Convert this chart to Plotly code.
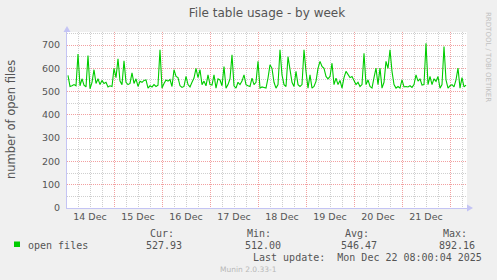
import plotly.graph_objects as go
import pandas as pd

# ---- data ----
start_time = "2025-12-14 01:00"
open_files = [
    570, 522, 525, 530, 525, 661, 525, 555, 528, 520,
    655, 512, 540, 594, 535, 555, 530, 548, 535, 540,
    520, 525, 522, 600, 560, 641, 545, 530, 632, 540,
    530, 535, 580, 535, 555, 522, 544, 540, 548, 550,
    515, 525, 520, 530, 522, 528, 680, 515, 535, 550,
    545, 552, 522, 594, 565, 560, 525, 518, 522, 565,
    530, 520, 540, 558, 600, 560, 594, 530, 545, 525,
    572, 530, 528, 572, 515, 555, 550, 525, 608, 515,
    530, 555, 658, 525, 515, 540, 530, 545, 572, 530,
    525, 522, 558, 530, 540, 630, 515, 520, 518, 515,
    558, 615, 600, 540, 515, 530, 680, 572, 530, 522,
    650, 600, 540, 522, 587, 530, 522, 530, 680, 587,
    515, 572, 515, 522, 544, 600, 630, 608, 600, 565,
    555, 565, 622, 530, 558, 530, 548, 515, 560, 587,
    570, 560, 565, 544, 530, 540, 522, 530, 665, 530,
    550, 522, 515, 560, 601, 530, 601, 515, 540, 630,
    600, 680, 587, 530, 515, 522, 515, 550, 520, 522,
    520, 525, 518, 530, 572, 545, 555, 528, 530, 708,
    530, 565, 530, 555, 544, 565, 515, 530, 694, 550,
    515, 525, 530, 520, 550, 601, 515, 560, 520, 528,
]
times = pd.date_range(start_time, periods=len(open_files), freq="h")

x_range = ["2025-12-14 00:30", "2025-12-22 08:30"]
y_range = [0, 756]
y_ticks = [0, 100, 200, 300, 400, 500, 600, 700]
y_minor = [50, 150, 250, 350, 450, 550, 650, 750]
six_hour_ticks = [t for t in pd.date_range("2025-12-14", "2025-12-23", freq="6h")
                  if t.hour != 0]

series_name = "open files"
stat_headers = ["Cur:", "Min:", "Avg:", "Max:"]
stat_values = ["527.93", "512.00", "546.47", "892.16"]
title_text = "File table usage - by week"
y_title = "number of open files"
last_update = "Last update:  Mon Dec 22 08:00:04 2025"
version_text = "Munin 2.0.33-1"
side_text = "RRDTOOL / TOBI OETIKER"

# ---- layout geometry (pixels) ----
W, H = 497, 280
L, R, T, B = 67, 30, 32, 72
PW, PH = W - L - R, H - T - B


def px(x):
    return (x - L) / PW


def py(y):
    return (H - B - y) / PH


GREEN = "#00cc00"
TXT = "#555555"
MONO = "DejaVu Sans Mono"
SANS = "DejaVu Sans"
MAJOR = "#f2a0a0"
MINOR = "#cfcfcf"
AXIS = "#c4c4f4"

fig = go.Figure()
fig.add_trace(go.Scatter(
    x=times, y=open_files, mode="lines",
    line=dict(color=GREEN, width=1.1),
    hoverinfo="skip", showlegend=False,
))

fig.update_layout(
    width=W, height=H,
    margin=dict(l=L, r=R, t=T, b=B),
    paper_bgcolor="#f0f0f0",
    plot_bgcolor="#ffffff",
    showlegend=False,
    font=dict(family=SANS, size=9.5, color=TXT),
    title=dict(text=title_text, x=0.5, xanchor="center", xref="paper",
               y=1 - 13 / H, yanchor="middle", yref="container",
               font=dict(family=SANS, size=12, color=TXT)),
)

fig.update_xaxes(
    type="date", range=x_range,
    tick0="2025-12-14", dtick=86400000,
    ticklabelmode="period", tickformat="%d %b",
    showgrid=True, gridcolor=MAJOR, griddash="1px,1px", gridwidth=1,
    minor=dict(tickmode="array", tickvals=six_hour_ticks, showgrid=True,
               gridcolor=MINOR, griddash="1px,1px", gridwidth=1),
    showline=True, linecolor=AXIS, linewidth=1,
    ticks="", zeroline=False,
    tickfont=dict(family=SANS, size=9.5, color=TXT),
)
fig.update_yaxes(
    range=y_range, tickmode="array", tickvals=y_ticks,
    showgrid=True, gridcolor=MAJOR, griddash="1px,1px", gridwidth=1,
    minor=dict(tickmode="array", tickvals=y_minor, showgrid=True,
               gridcolor=MINOR, griddash="1px,1px", gridwidth=1),
    showline=True, linecolor=AXIS, linewidth=1,
    ticks="", zeroline=False, ticklabelstandoff=4,
    tickfont=dict(family=SANS, size=9.5, color=TXT),
)

# y axis title
fig.add_annotation(text=y_title, x=px(11), y=py(119), xref="paper", yref="paper",
                   xanchor="center", yanchor="middle", showarrow=False,
                   textangle=-90, font=dict(family=SANS, size=11.5, color=TXT))

# axis arrow heads
fig.add_shape(type="path", xref="paper", yref="paper",
              xsizemode="pixel", ysizemode="pixel", xanchor=1, yanchor=0,
              path="M 0 3.5 L 6 0 L 0 -3.5 Z",
              fillcolor=AXIS, line=dict(width=0))
fig.add_shape(type="path", xref="paper", yref="paper",
              xsizemode="pixel", ysizemode="pixel", xanchor=0, yanchor=1,
              path="M -3.5 0 L 0 6 L 3.5 0 Z",
              fillcolor=AXIS, line=dict(width=0))

# legend swatch
fig.add_shape(type="rect", xref="paper", yref="paper",
              x0=px(14), x1=px(20), y0=py(247), y1=py(241.5),
              fillcolor=GREEN, line=dict(width=0))


def ann(text, x, y, xanchor="left", size=10, color=TXT, family=MONO, angle=0):
    fig.add_annotation(text=text, x=px(x), y=py(y), xref="paper", yref="paper",
                       xanchor=xanchor, yanchor="middle", showarrow=False,
                       textangle=angle,
                       font=dict(family=family, size=size, color=color))


ann(series_name, 26, 245)
hdr_right = [176, 273, 371, 469]
val_right = [184, 283, 379, 477]
for h, v, hx, vx in zip(stat_headers, stat_values, hdr_right, val_right):
    ann(h, hx, 233, xanchor="right")
    ann(v, vx, 245, xanchor="right")
ann(last_update, 484, 257, xanchor="right")
ann(version_text, 248, 269, xanchor="center", size=7.5, color="#b8b8b8", family=SANS)
ann(side_text, 488, 57, xanchor="center", size=7, color="#c0c0c0", family=SANS, angle=90)

fig.write_html("out.html")
